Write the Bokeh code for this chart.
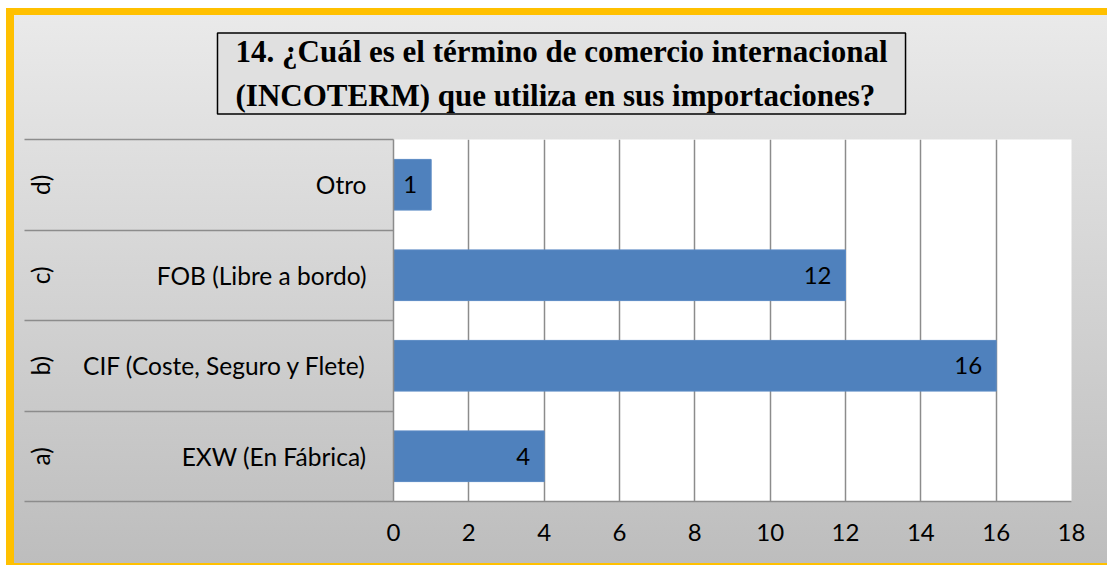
from bokeh.plotting import figure
from bokeh.models import (Range1d, LinearAxis, FixedTicker, ColumnDataSource)
from bokeh.core.properties import value
from bokeh.embed import file_html
from bokeh.resources import INLINE

# ---- data ----
letters = ["a)", "b)", "c)", "d)"]
names = ["EXW (En Fábrica)", "CIF (Coste, Seguro y Flete)", "FOB (Libre a bordo)", "Otro"]
counts = [4, 16, 12, 1]
x_ticks = [0, 2, 4, 6, 8, 10, 12, 14, 16, 18]
title_text = "14. ¿Cuál es el término de comercio internacional\n(INCOTERM) que utiliza en sus importaciones?"

n = len(names)
ypos = [i + 0.5 for i in range(n)]          # category slots (bottom -> top)
bounds = list(range(n + 1))                 # category boundaries
src = ColumnDataSource(dict(y=ypos, v=counts, t=[str(c) for c in counts]))

GRID = "#8c8c8c"
SANS = "Lato"

p = figure(width=1107, height=565, output_backend="svg", toolbar_location=None,
           y_range=Range1d(0, n), x_range=Range1d(0, 18), y_axis_location=None,
           min_border_left=393, min_border_right=36, min_border_top=139,
           min_border_bottom=64)
p.border_fill_color = None
p.background_fill_color = "white"
p.outline_line_color = None
p.styles = {
    "background": "linear-gradient(#ebebeb, #bdbdbd)",
    "box-shadow": ("inset 6px 8px 0 0 white, inset 14px 15px 0 0 #FFC000, "
                   "inset 0 -2px 0 0 #FFC000"),
}

# title box
p.title.text = title_text
p.title.align = "left"
p.title.offset = -176
p.title.vertical_align = "bottom"
p.title.standoff = 51
p.title.text_font = "Liberation Serif"
p.title.text_font_style = "bold"
p.title.text_font_size = "31px"
p.title.text_line_height = 1.26
p.title.text_color = "black"
p.title.background_fill_color = "#e0e0e0"
p.title.border_line_color = "black"
p.title.border_line_width = 1.5
p.title.padding = dict(left=18, right=18, top=1, bottom=1)

# category names axis (nearest the plot); minor ticks draw the separators
name_axis = LinearAxis(ticker=FixedTicker(ticks=ypos, minor_ticks=bounds))
name_axis.major_label_overrides = {y: s for y, s in zip(ypos, names)}
name_axis.major_tick_out = 0
name_axis.major_tick_in = 0
name_axis.minor_tick_out = 0
name_axis.minor_tick_in = -369
name_axis.minor_tick_line_color = GRID
name_axis.minor_tick_line_width = 1.5
name_axis.axis_line_color = GRID
name_axis.axis_line_width = 1.5
name_axis.major_label_standoff = 27
name_axis.major_label_text_font = SANS
name_axis.major_label_text_font_size = "24.5px"
name_axis.major_label_text_color = "black"
p.add_layout(name_axis, "left")

# letter axis (outer level, rotated labels)
letter_axis = LinearAxis(ticker=FixedTicker(ticks=ypos, minor_ticks=[]))
letter_axis.major_label_overrides = {y: s for y, s in zip(ypos, letters)}
letter_axis.major_label_orientation = "vertical"
letter_axis.major_tick_out = 0
letter_axis.major_tick_in = 0
letter_axis.minor_tick_out = 0
letter_axis.minor_tick_in = 0
letter_axis.axis_line_color = None
letter_axis.major_label_standoff = 26
letter_axis.major_label_text_font = SANS
letter_axis.major_label_text_font_size = "24.5px"
letter_axis.major_label_text_color = "black"
p.add_layout(letter_axis, "left")

# x axis
xa = p.xaxis[0]
xa.ticker = FixedTicker(ticks=x_ticks)
xa.major_tick_out = 0
xa.major_tick_in = 0
xa.minor_tick_out = 0
xa.minor_tick_in = 0
xa.axis_line_color = GRID
xa.axis_line_width = 1.5
xa.major_label_standoff = 22
xa.major_label_text_font = SANS
xa.major_label_text_font_size = "24px"
xa.major_label_text_color = "black"

p.xgrid.ticker = FixedTicker(ticks=x_ticks)
p.xgrid.grid_line_color = GRID
p.xgrid.grid_line_width = 1.5
p.ygrid.grid_line_color = None

# bars
p.hbar(y="y", right="v", left=0, height=0.56, source=src,
       fill_color="#4F81BD", line_color="#5b8ac4", line_width=1)
p.text(x="v", y="y", text="t", source=src, x_offset=-14,
       text_align="right", text_baseline="middle",
       text_font=value(SANS), text_font_size="24px", text_color="black")

open("out.html", "w").write(file_html(p, INLINE))
